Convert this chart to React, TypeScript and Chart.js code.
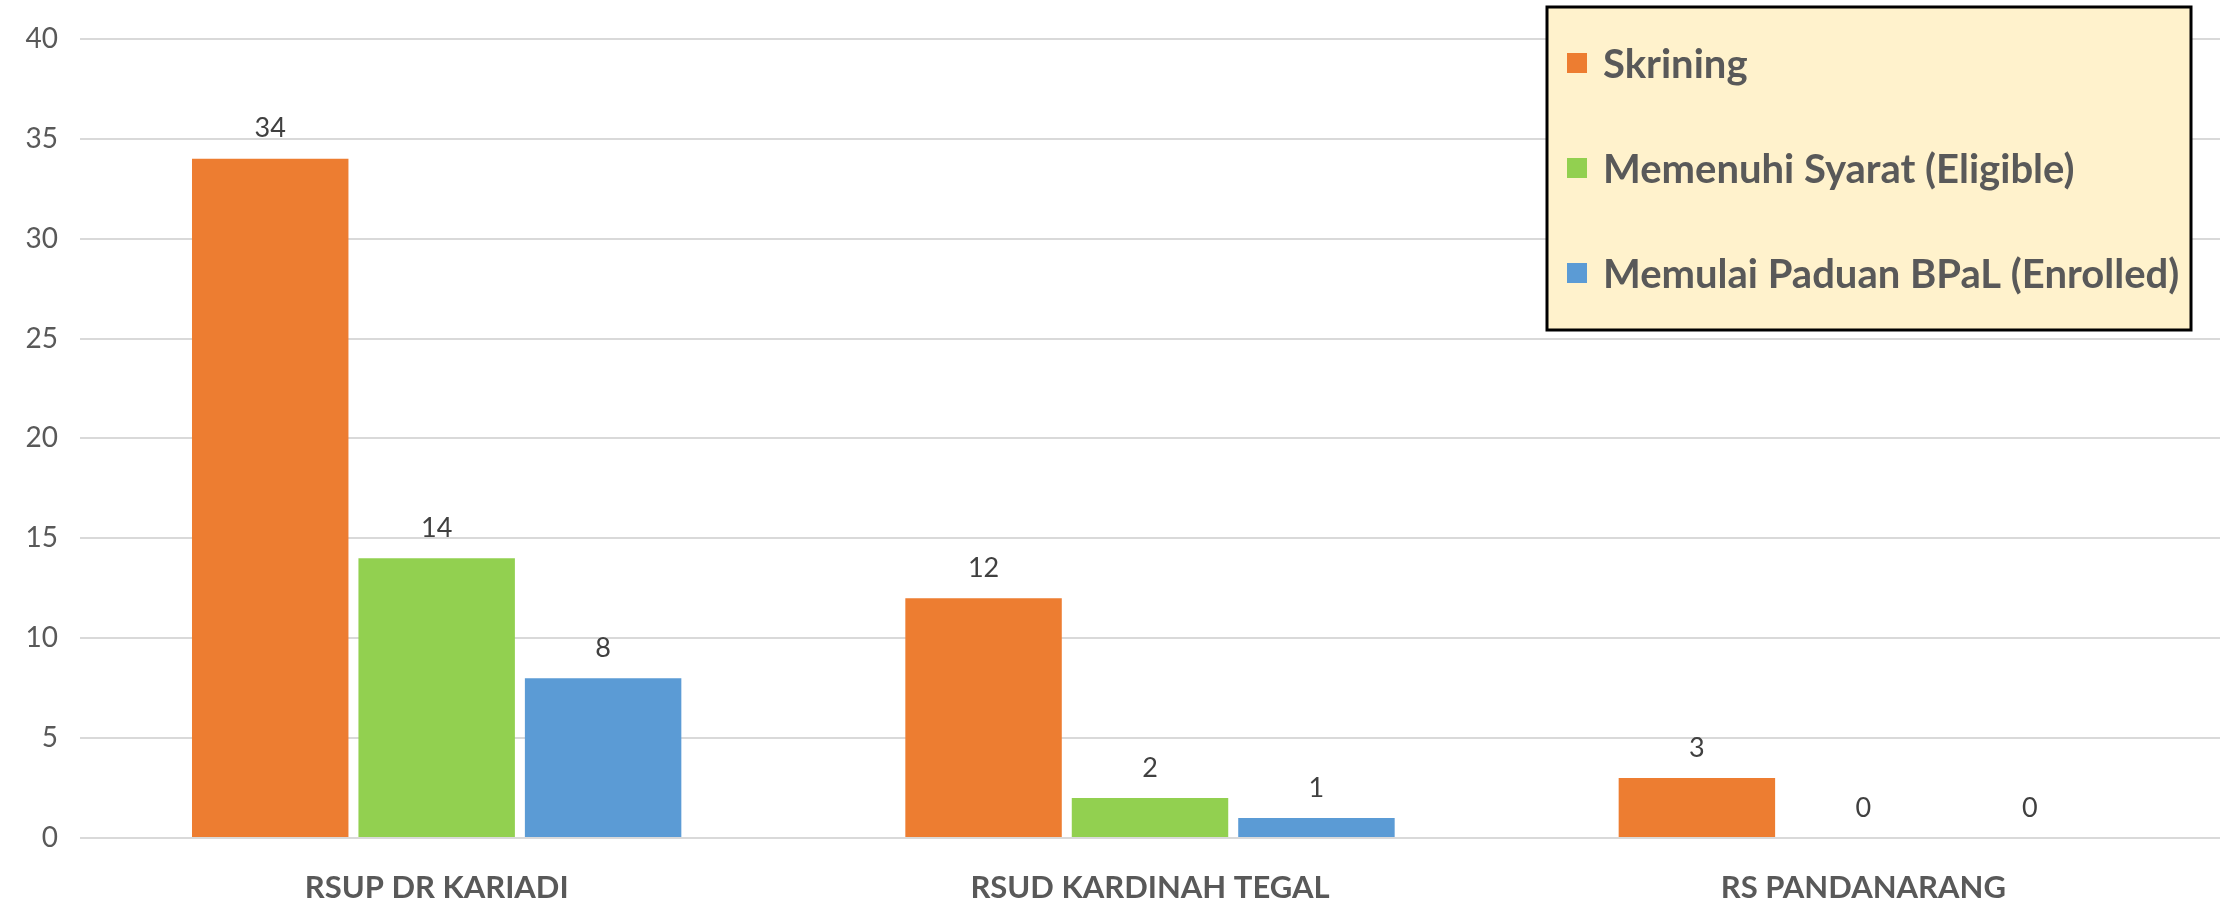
import React, { useEffect, useRef } from "react";
import { Chart, registerables } from "chart.js";

Chart.register(...registerables);

const categories = ["RSUP DR KARIADI", "RSUD KARDINAH TEGAL", "RS PANDANARANG"];
const skrining = [34, 12, 3];
const eligible = [14, 2, 0];
const enrolled = [8, 1, 0];
const seriesNames = ["Skrining", "Memenuhi Syarat (Eligible)", "Memulai Paduan BPaL (Enrolled)"];
const seriesColors = ["#ED7D31", "#92D050", "#5B9BD5"];
const yMin = 0;
const yMax = 40;
const yStep = 5;

const FONT = "Lato, 'Open Sans', sans-serif";

const valueLabelPlugin = {
  id: "valueLabels",
  afterDatasetsDraw(chart: any) {
    const ctx = chart.ctx;
    ctx.save();
    ctx.font = `27px ${FONT}`;
    ctx.fillStyle = "#404040";
    ctx.textAlign = "center";
    ctx.textBaseline = "middle";
    chart.data.datasets.forEach((ds: any, i: number) => {
      const meta = chart.getDatasetMeta(i);
      meta.data.forEach((el: any, j: number) => {
        ctx.fillText(String(ds.data[j]), el.x, el.y - 30);
      });
    });
    ctx.restore();
  },
};

const boxLegendPlugin = {
  id: "boxLegend",
  afterDraw(chart: any) {
    const ctx = chart.ctx;
    const x = 1547, y = 7, w = 644, h = 323;
    ctx.save();
    ctx.fillStyle = "#FFF2CC";
    ctx.fillRect(x, y, w, h);
    ctx.lineWidth = 3;
    ctx.strokeStyle = "#000000";
    ctx.strokeRect(x, y, w, h);
    ctx.font = `bold 40px ${FONT}`;
    ctx.textBaseline = "middle";
    ctx.textAlign = "left";
    chart.data.datasets.forEach((ds: any, i: number) => {
      const cy = 63 + i * 105;
      ctx.fillStyle = ds.backgroundColor;
      ctx.fillRect(1567, cy - 10, 20, 20);
      ctx.fillStyle = "#595959";
      ctx.fillText(ds.label, 1603, cy + 2);
    });
    ctx.restore();
  },
};

export default function App() {
  const canvasRef = useRef<HTMLCanvasElement | null>(null);

  useEffect(() => {
    if (!canvasRef.current) return;
    const seriesData = [skrining, eligible, enrolled];
    const chart = new Chart(canvasRef.current, {
      type: "bar",
      data: {
        labels: categories,
        datasets: seriesNames.map((name, i) => ({
          label: name,
          data: seriesData[i],
          backgroundColor: seriesColors[i],
          borderWidth: 0,
          categoryPercentage: 0.7,
          barPercentage: 0.94,
        })),
      },
      options: {
        animation: false,
        responsive: false,
        maintainAspectRatio: false,
        layout: { padding: { top: 38, right: 14, left: 0, bottom: 0 } },
        plugins: {
          legend: { display: false },
          tooltip: { enabled: false },
          title: { display: false },
        },
        scales: {
          x: {
            grid: { display: false, drawTicks: false },
            border: { display: false },
            ticks: {
              color: "#595959",
              font: { family: FONT, size: 31, weight: "bold" },
              padding: 31,
              maxRotation: 0,
            },
            afterFit: (scale: any) => {
              scale.height = 67;
            },
          },
          y: {
            min: yMin,
            max: yMax,
            grid: { color: "#D9D9D9", lineWidth: 2, drawTicks: false },
            border: { display: false },
            ticks: {
              stepSize: yStep,
              color: "#595959",
              font: { family: FONT, size: 28 },
              padding: 22,
            },
            afterFit: (scale: any) => {
              scale.width = 80;
            },
          },
        },
      },
      plugins: [valueLabelPlugin, boxLegendPlugin],
    });
    return () => chart.destroy();
  }, []);

  return (
    <div style={{ position: "fixed", left: 0, top: 0, width: 2234, height: 905, background: "#fff" }}>
      <canvas ref={canvasRef} width={2234} height={905} style={{ width: 2234, height: 905 }} />
    </div>
  );
}
